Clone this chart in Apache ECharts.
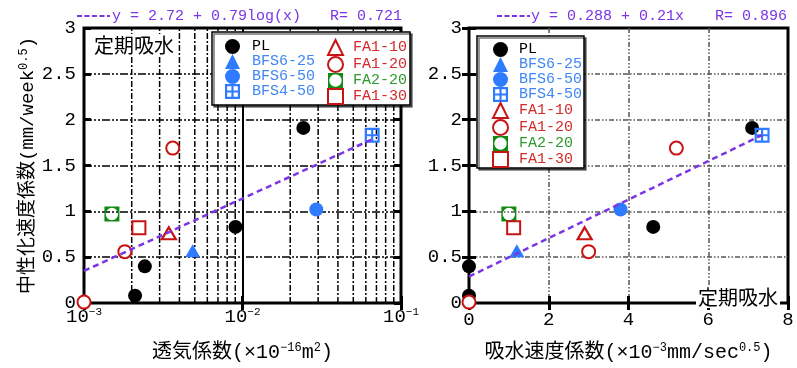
<!DOCTYPE html>
<html>
<head>
<meta charset="utf-8">
<script src="https://cdn.jsdelivr.net/npm/echarts@6.0.0/dist/echarts.min.js"></script>
<style>
  html, body { margin: 0; padding: 0; background: #fff; }
  #chart { width: 797px; height: 368px; }
</style>
</head>
<body>
<div id="chart"></div>
<script>
// Carbonation rate coefficient vs. air permeability (left, log scale)
// and vs. water absorption rate (right), periodic water absorption.

// --- measured values per mix -------------------------------------------
// *_perm   : air permeability coefficient (×10^-16 m²)
// *_absorb : water absorption rate coefficient (×10^-3 mm/sec^0.5)
// *_rate   : carbonation rate coefficient (mm/week^0.5)
const PL_perm = [0.00210, 0.00242, 0.00903, 0.0242];
const PL_absorb = [0, 0, 4.62, 7.10];
const PL_rate = [0.08, 0.40, 0.83, 1.91];

const BFS625_perm = [0.00485];
const BFS625_absorb = [1.20];
const BFS625_rate = [0.57];

const BFS650_perm = [0.0292];
const BFS650_absorb = [3.80];
const BFS650_rate = [1.02];

const BFS450_perm = [0.0658];
const BFS450_absorb = [7.35];
const BFS450_rate = [1.83];

const FA110_perm = [0.00343];
const FA110_absorb = [2.90];
const FA110_rate = [0.76];

const FA120_perm = [0.0010, 0.00181, 0.00363];
const FA120_absorb = [0, 3.00, 5.20];
const FA120_rate = [0.01, 0.56, 1.69];

const FA220_perm = [0.00150];
const FA220_absorb = [1.00];
const FA220_rate = [0.97];

const FA130_perm = [0.00222];
const FA130_absorb = [1.12];
const FA130_rate = [0.82];

// regression results: [intercept, slope], correlation
const permFit = [2.72, 0.79];
const permR = '0.721';
const absorbFit = [0.288, 0.21];
const absorbR = '0.896';

// axis ranges / ticks
const permRange = [0.001, 0.1];
const absorbTicks = [0, 2, 4, 6, 8];
const rateTicks = [0, 0.5, 1, 1.5, 2, 2.5, 3];

// --- styling ------------------------------------------------------------
const MONO = "'Liberation Mono', 'Noto Sans CJK JP', monospace";
const CJK = "'Noto Sans CJK JP', sans-serif";
const PURPLE = '#7b35e6';
const BLUE = '#2f7bff', BLUE_TXT = '#3f86f6';
const RED = '#c81414', RED_TXT = '#d42b2b';
const GREEN = '#128a12', GREEN_TXT = '#2c9a2c';
const GRID_SQUARE = 'path://M0,0H14V14H0Z M2,2V6H6V2Z M8,2V6H12V2Z M2,8V12H6V8Z M8,8V12H12V8Z';
const RING_SQUARE = 'path://M0,0H14V14H0Z M7,1.2A5.8,5.8 0 0 0 7,12.8A5.8,5.8 0 0 0 7,1.2Z';

const groups = [
  { name: 'PL', perm: PL_perm, absorb: PL_absorb, rate: PL_rate,
    symbol: 'circle', size: 14, item: { color: '#000' }, text: '#000' },
  { name: 'BFS6-25', perm: BFS625_perm, absorb: BFS625_absorb, rate: BFS625_rate,
    symbol: 'triangle', size: [15, 13], item: { color: BLUE }, text: BLUE_TXT },
  { name: 'BFS6-50', perm: BFS650_perm, absorb: BFS650_absorb, rate: BFS650_rate,
    symbol: 'circle', size: 14, item: { color: BLUE }, text: BLUE_TXT },
  { name: 'BFS4-50', perm: BFS450_perm, absorb: BFS450_absorb, rate: BFS450_rate,
    symbol: GRID_SQUARE, size: 15, item: { color: BLUE }, text: BLUE_TXT },
  { name: 'FA1-10', perm: FA110_perm, absorb: FA110_absorb, rate: FA110_rate,
    symbol: 'triangle', size: [14, 12], item: { color: '#fff', borderColor: RED, borderWidth: 2.2 }, text: RED_TXT },
  { name: 'FA1-20', perm: FA120_perm, absorb: FA120_absorb, rate: FA120_rate,
    symbol: 'circle', size: 13, item: { color: '#fff', borderColor: RED, borderWidth: 2 }, text: RED_TXT },
  { name: 'FA2-20', perm: FA220_perm, absorb: FA220_absorb, rate: FA220_rate,
    symbol: RING_SQUARE, size: 15, item: { color: GREEN }, text: GREEN_TXT },
  { name: 'FA1-30', perm: FA130_perm, absorb: FA130_absorb, rate: FA130_rate,
    symbol: 'rect', size: 13, item: { color: '#fff', borderColor: RED, borderWidth: 2 }, text: RED_TXT }
];

function pairs(xs, ys) { return xs.map((x, i) => [x, ys[i]]); }

// log-axis minor grid positions (2..9 within each decade)
const minorLines = [];
for (let d = permRange[0]; d < permRange[1] * 0.999; d *= 10) {
  for (let m = 2; m <= 9; m++) minorLines.push(+(m * d).toPrecision(3));
}

// fitted lines drawn between the extremes of the data
const allPerm = groups.flatMap(g => g.perm);
const allAbsorb = groups.flatMap(g => g.absorb);
const permLine = [permRange[0], Math.max(...allPerm)].map(x => [x, permFit[0] + permFit[1] * Math.log10(x)]);
const absorbLine = [Math.min(...allAbsorb), Math.max(...allAbsorb)].map(x => [x, absorbFit[0] + absorbFit[1] * x]);

const supRich = {
  b: { fontSize: 19, fontFamily: MONO, color: '#000' },
  s: { fontSize: 11, fontFamily: MONO, color: '#000', padding: [0, 0, 9, 0] }
};
const nameRich = { sup: { fontSize: 12, fontFamily: MONO, color: '#000', padding: [0, 0, 10, 0] } };

const tickStyle = { show: true, inside: true, length: 7, lineStyle: { color: '#000', width: 3 } };
const yLabel = { fontSize: 19, fontFamily: MONO, color: '#000', margin: 8, formatter: v => String(v) };

const blackDashDot = { color: '#000', width: 1.5, type: [8, 2, 2, 2, 2, 2] };
const grayDashDot = { color: '#555', width: 1.5, type: [5, 2, 1.5, 2, 1.5, 2] };

const legendText = { fontFamily: MONO, fontSize: 15, lineHeight: 15, padding: [0, 0, 0, 5] };
const legendBase = { orient: 'vertical', itemWidth: 15, itemHeight: 15, itemGap: 0, padding: 0, selectedMode: false, z: 20 };

const option = {
  animation: false,
  grid: [
    { left: 84, top: 28, width: 317, height: 285, show: true, borderColor: '#000', borderWidth: 3, backgroundColor: 'transparent' },
    { left: 469, top: 28, width: 319, height: 285, show: true, borderColor: '#000', borderWidth: 3, backgroundColor: 'transparent' }
  ],
  xAxis: [
    { gridIndex: 0, type: 'log', logBase: 10, min: permRange[0], max: permRange[1], position: 'bottom',
      axisLine: { show: false }, axisTick: tickStyle,
      axisLabel: { margin: 4, formatter: v => {
        const e = Math.round(Math.log10(v));
        return '{b|10}{s|' + (e < 0 ? '−' : '') + Math.abs(e) + '}';
      }, rich: supRich },
      splitLine: { show: true, showMinLine: false, showMaxLine: false, lineStyle: { color: '#000', width: 2, type: 'solid' } },
      name: '透気係数(×10{sup|−16}m{sup|2})', nameLocation: 'middle', nameGap: 39,
      nameTextStyle: { fontSize: 20, fontFamily: MONO, color: '#000', rich: nameRich } },
    { gridIndex: 0, type: 'log', logBase: 10, min: permRange[0], max: permRange[1], position: 'top',
      axisLine: { show: false }, axisTick: tickStyle, axisLabel: { show: false }, splitLine: { show: false } },
    { gridIndex: 1, type: 'value', min: absorbTicks[0], max: absorbTicks[absorbTicks.length - 1], interval: absorbTicks[1] - absorbTicks[0], position: 'bottom',
      axisLine: { show: false }, axisTick: tickStyle,
      axisLabel: { fontSize: 19, fontFamily: MONO, color: '#000', margin: 7 },
      splitLine: { show: true, showMinLine: false, showMaxLine: false, lineStyle: grayDashDot },
      name: '吸水速度係数(×10{sup|−3}mm/sec{sup|0.5})', nameLocation: 'middle', nameGap: 39,
      nameTextStyle: { fontSize: 20, fontFamily: MONO, color: '#000', rich: nameRich } },
    { gridIndex: 1, type: 'value', min: absorbTicks[0], max: absorbTicks[absorbTicks.length - 1], interval: absorbTicks[1] - absorbTicks[0], position: 'top',
      axisLine: { show: false }, axisTick: tickStyle, axisLabel: { show: false }, splitLine: { show: false } }
  ],
  yAxis: [
    { gridIndex: 0, type: 'value', min: rateTicks[0], max: rateTicks[rateTicks.length - 1], interval: rateTicks[1] - rateTicks[0], position: 'left',
      axisLine: { show: false }, axisTick: tickStyle, axisLabel: yLabel,
      splitLine: { show: true, showMinLine: false, showMaxLine: false, lineStyle: blackDashDot },
      name: '中性化速度係数(mm/week{sup|0.5})', nameLocation: 'middle', nameGap: 43, nameRotate: 90,
      nameTextStyle: { fontSize: 19, fontFamily: MONO, color: '#000', rich: nameRich } },
    { gridIndex: 0, type: 'value', min: rateTicks[0], max: rateTicks[rateTicks.length - 1], interval: rateTicks[1] - rateTicks[0], position: 'right',
      axisLine: { show: false }, axisTick: tickStyle, axisLabel: { show: false }, splitLine: { show: false } },
    { gridIndex: 1, type: 'value', min: rateTicks[0], max: rateTicks[rateTicks.length - 1], interval: rateTicks[1] - rateTicks[0], position: 'left',
      axisLine: { show: false }, axisTick: tickStyle, axisLabel: Object.assign({}, yLabel, { margin: 7 }),
      splitLine: { show: true, showMinLine: false, showMaxLine: false, lineStyle: grayDashDot } },
    { gridIndex: 1, type: 'value', min: rateTicks[0], max: rateTicks[rateTicks.length - 1], interval: rateTicks[1] - rateTicks[0], position: 'right',
      axisLine: { show: false }, axisTick: tickStyle, axisLabel: { show: false }, splitLine: { show: false } }
  ],
  legend: [
    Object.assign({}, legendBase, { data: groups.slice(0, 4).map(g => ({ name: g.name, textStyle: { color: g.text } })),
      left: 225, top: 39, textStyle: Object.assign({}, legendText, { padding: [0, 0, 0, 7] }) }),
    Object.assign({}, legendBase, { data: groups.slice(4).map(g => ({ name: g.name, textStyle: { color: g.text } })),
      left: 327, top: 39, textStyle: Object.assign({}, legendText, { padding: [0, 0, 0, 5] }) }),
    Object.assign({}, legendBase, { data: groups.map(g => ({ name: g.name, textStyle: { color: g.text } })),
      left: 492, top: 42, textStyle: Object.assign({}, legendText, { padding: [0, 0, 0, 6] }) })
  ],
  graphic: [
    // legend frames
    { type: 'rect', z: 15, shape: { x: 212, y: 32, width: 198, height: 73 },
      style: { fill: '#fff', stroke: '#000', lineWidth: 1.5, shadowColor: 'rgba(0,0,0,0.55)', shadowOffsetX: 2, shadowOffsetY: 2, shadowBlur: 0 } },
    { type: 'rect', z: 15, shape: { x: 477, y: 36, width: 107, height: 132 },
      style: { fill: '#fff', stroke: '#000', lineWidth: 1.5, shadowColor: 'rgba(0,0,0,0.55)', shadowOffsetX: 2, shadowOffsetY: 2, shadowBlur: 0 } },
    // regression captions
    { type: 'line', z: 15, shape: { x1: 77, y1: 16, x2: 110, y2: 16 }, style: { stroke: PURPLE, lineWidth: 2, lineDash: [5, 2.5] } },
    { type: 'text', z: 15, x: 112, y: 16, style: { text: 'y = ' + permFit[0].toFixed(2) + ' + ' + permFit[1].toFixed(2) + 'log(x)', fill: PURPLE, fontSize: 15, fontFamily: MONO, verticalAlign: 'middle' } },
    { type: 'text', z: 15, x: 330, y: 16, style: { text: 'R= ' + permR, fill: PURPLE, fontSize: 15, fontFamily: MONO, verticalAlign: 'middle' } },
    { type: 'line', z: 15, shape: { x1: 497, y1: 16, x2: 530, y2: 16 }, style: { stroke: PURPLE, lineWidth: 2, lineDash: [5, 2.5] } },
    { type: 'text', z: 15, x: 531, y: 16, style: { text: 'y = ' + absorbFit[0] + ' + ' + absorbFit[1] + 'x', fill: PURPLE, fontSize: 15, fontFamily: MONO, verticalAlign: 'middle' } },
    { type: 'text', z: 15, x: 715, y: 16, style: { text: 'R= ' + absorbR, fill: PURPLE, fontSize: 15, fontFamily: MONO, verticalAlign: 'middle' } },
    // condition labels
    { type: 'text', z: 15, x: 92, y: 45, style: { text: '定期吸水', fill: '#000', fontSize: 20, fontFamily: CJK, verticalAlign: 'middle', backgroundColor: '#fff', padding: [1, 2] } },
    { type: 'text', z: 15, x: 696, y: 297, style: { text: '定期吸水', fill: '#000', fontSize: 20, fontFamily: CJK, verticalAlign: 'middle', backgroundColor: '#fff', padding: [1, 2] } }
  ],
  series: [
    // minor log grid of the permeability panel
    ...minorLines.map(v => ({
      type: 'line', name: 'minor-' + v, xAxisIndex: 0, yAxisIndex: 0, silent: true, symbol: 'none', showSymbol: false, z: 1,
      data: [[v, rateTicks[0]], [v, rateTicks[rateTicks.length - 1]]],
      lineStyle: { color: '#000', width: 1.5, type: [6, 2, 2, 2] }
    })),
    // regression lines
    { type: 'line', name: 'fit-perm', xAxisIndex: 0, yAxisIndex: 0, data: permLine, showSymbol: false, symbol: 'none', silent: true,
      lineStyle: { color: PURPLE, width: 2.5, type: [6, 4] } },
    { type: 'line', name: 'fit-absorb', xAxisIndex: 2, yAxisIndex: 2, data: absorbLine, showSymbol: false, symbol: 'none', silent: true,
      lineStyle: { color: PURPLE, width: 2.5, type: [6, 4] } },
    ...groups.map(g => ({
      type: 'scatter', name: g.name, xAxisIndex: 0, yAxisIndex: 0, data: pairs(g.perm, g.rate),
      symbol: g.symbol, symbolSize: g.size, itemStyle: Object.assign({ opacity: 1 }, g.item), emphasis: { disabled: true }
    })),
    ...groups.map(g => ({
      type: 'scatter', name: g.name, xAxisIndex: 2, yAxisIndex: 2, data: pairs(g.absorb, g.rate),
      symbol: g.symbol, symbolSize: g.size, itemStyle: Object.assign({ opacity: 1 }, g.item), emphasis: { disabled: true }
    }))
  ]
};

const chart = echarts.init(document.getElementById('chart'), null, { renderer: 'canvas' });
chart.setOption(option);
</script>
</body>
</html>
